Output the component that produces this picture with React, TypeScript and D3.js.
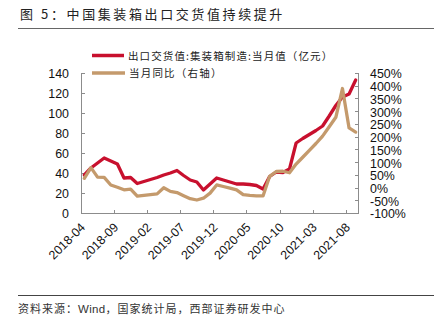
import React from "react";
import * as d3 from "d3";

const months = [
  "2018-04","2018-05","2018-06","2018-07","2018-08","2018-09","2018-10","2018-11","2018-12",
  "2019-01","2019-02","2019-03","2019-04","2019-05","2019-06","2019-07","2019-08","2019-09","2019-10","2019-11","2019-12",
  "2020-01","2020-02","2020-03","2020-04","2020-05","2020-06","2020-07","2020-08","2020-09","2020-10","2020-11","2020-12",
  "2021-01","2021-02","2021-03","2021-04","2021-05","2021-06","2021-07","2021-08","2021-09",
];
const exportValue = [
  39, 46, 51, 56, 53, 50, 36, 36.5, 30.5, 32.5, 34.5, 36.5, 39, 41, 43.5, 38.5, 34, 32, 24, 30, 36,
  34, 32, 30, 30, 29.5, 28.5, 25, 37.5, 42, 41.5, 45, 71, 75.5, 79.5, 83.5, 88, 98, 108.5, 117, 120, 134,
];
const yoy = [
  40, 82, 45, 44, 14, 5, -5, -2, -30, -27, -24, -21, 3, -11, -16, -28, -40, -45, -38, -18, 14,
  8, 2, -5, -24, -27, -29, -29, 48, 67, 68, 62, 96, 123, 150, 177, 206, 243, 280, 393, 238, 222,
];
const leftTicks = [0, 20, 40, 60, 80, 100, 120, 140];
const rightTicks = [-100, -50, 0, 50, 100, 150, 200, 250, 300, 350, 400, 450];
const xTickLabels = ["2018-04","2018-09","2019-02","2019-07","2019-12","2020-05","2020-10","2021-03","2021-08"];

const title = "图 5：中国集装箱出口交货值持续提升";
const legend1 = "出口交货值:集装箱制造:当月值（亿元）";
const legend2 = "当月同比（右轴）";
const sourceA = "资料来源：";
const sourceB = "Wind";
const sourceC = "，国家统计局，西部证券研发中心";

const RED = "#C8102E";
const TAN = "#C49A6C";
const AXIS = "#8c8c8c";
const FONT = "'Liberation Sans', Arial, sans-serif";
const CJK = "'Noto Sans CJK SC', sans-serif";

export default function App() {
  const W = 434, H = 325;
  const x0 = 81, x1 = 359, yTop = 74, yBot = 214;
  const x = d3.scaleBand<string>().domain(months).range([x0, x1]).padding(0);
  const cx = (m: string) => (x(m) as number) + x.bandwidth() / 2;
  const yL = d3.scaleLinear().domain([0, 140]).range([yBot, yTop]);
  const yR = d3.scaleLinear().domain([-100, 450]).range([yBot, yTop]);

  const lineL = d3.line<number>().x((_, i) => cx(months[i])).y((d) => yL(d));
  const lineR = d3.line<number>().x((_, i) => cx(months[i])).y((d) => yR(d));

  const tickIdx = months.map((m, i) => i).filter((i) => i % 5 === 0);

  return (
    <svg width={W} height={H} style={{ position: "absolute", left: 0, top: 0, background: "#fff" }}>
      <text x={20} y={19} fontFamily={CJK} fontSize={13} fill="#222" letterSpacing={2.6}>{title}</text>
      <line x1={18} x2={434} y1={28.5} y2={28.5} stroke="#666" strokeWidth={1} />

      {/* axes */}
      <line x1={x0 + 0.5} x2={x0 + 0.5} y1={yTop} y2={yBot} stroke={AXIS} />
      <line x1={x1 - 0.5} x2={x1 - 0.5} y1={yTop} y2={yBot} stroke={AXIS} />
      <line x1={x0} x2={x1} y1={yBot - 0.5} y2={yBot - 0.5} stroke={AXIS} />
      {leftTicks.map((t) => (
        <g key={"l" + t}>
          <line x1={x0} x2={x0 + 4} y1={Math.round(yL(t)) - 0.5} y2={Math.round(yL(t)) - 0.5} stroke={AXIS} />
          <text x={69} y={yL(t)} dy="0.36em" textAnchor="end" fontFamily={FONT} fontSize={12.4} fill="#111">{t}</text>
        </g>
      ))}
      {rightTicks.map((t) => (
        <g key={"r" + t}>
          <line x1={x1 - 4} x2={x1} y1={Math.round(yR(t)) - 0.5} y2={Math.round(yR(t)) - 0.5} stroke={AXIS} />
          <text x={370} y={yR(t)} dy="0.36em" textAnchor="start" fontFamily={FONT} fontSize={12.4} fill="#111">{t + "%"}</text>
        </g>
      ))}
      {tickIdx.map((i) => {
        const tx = x(months[i]) as number;
        return (
          <line key={"xt" + i} x1={Math.round(tx) + 0.5} x2={Math.round(tx) + 0.5} y1={yBot - 4} y2={yBot} stroke={AXIS} />
        );
      })}
      {xTickLabels.map((lab) => {
        const tx = x(lab) as number;
        return (
          <text key={"xl" + lab} transform={`translate(${tx + 5},${228}) rotate(-45)`} textAnchor="end" fontFamily={FONT} fontSize={12.4} fill="#111">{lab}</text>
        );
      })}

      {/* series */}
      <path d={lineL(exportValue) || ""} fill="none" stroke={RED} strokeWidth={3.3} strokeLinejoin="round" strokeLinecap="round" />
      <path d={lineR(yoy) || ""} fill="none" stroke={TAN} strokeWidth={3.3} strokeLinejoin="round" strokeLinecap="round" />

      {/* legend */}
      <line x1={92} x2={124} y1={55.5} y2={55.5} stroke={RED} strokeWidth={3.5} />
      <text x={128} y={59.5} fontFamily={CJK} fontSize={10.5} fill="#222" letterSpacing={1.1}>{legend1}</text>
      <line x1={92} x2={125} y1={73} y2={73} stroke={TAN} strokeWidth={3.5} />
      <text x={129} y={77} fontFamily={CJK} fontSize={10.5} fill="#222" letterSpacing={1.2}>{legend2}</text>

      <line x1={18} x2={434} y1={295.5} y2={295.5} stroke="#444" strokeWidth={1} />
      <text x={18} y={313} fontFamily={CJK} fontSize={11} fill="#333" letterSpacing={1}>
        {sourceA}
        <tspan fontFamily={FONT} fontSize={11.5} letterSpacing={0.3}>{sourceB}</tspan>
        {sourceC}
      </text>
    </svg>
  );
}
